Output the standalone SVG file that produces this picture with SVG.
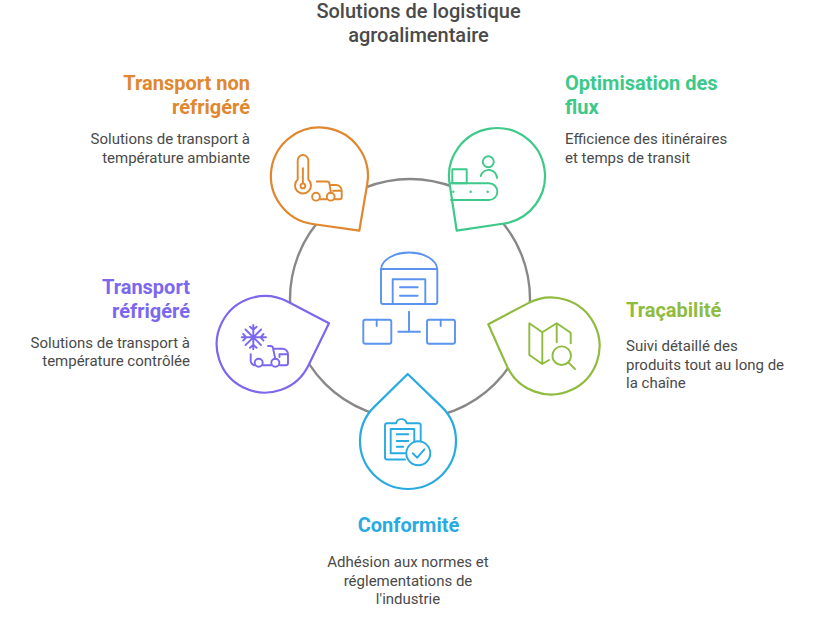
<svg xmlns="http://www.w3.org/2000/svg" width="816" height="630" viewBox="0 0 816 630">
<style>
text{font-family:Roboto,"Liberation Sans",sans-serif}
.t{font-size:20px;font-weight:500;fill:#4a4a4a;text-anchor:middle}
.h{font-size:20px;font-weight:700}
.b{font-size:15px;fill:#4a4a4a}
.e{text-anchor:end}.m{text-anchor:middle}
.n{fill:#fff;stroke-width:2.2;stroke-linejoin:round}
.i{fill:none;stroke-width:1.9;stroke-linecap:round;stroke-linejoin:round}
.or{stroke:#e0872f}.gr{stroke:#3cc98a}.li{stroke:#8fbc3f}.bl{stroke:#29abe2}.pu{stroke:#7b68ee}.ce{stroke:#5b93ee}
</style>
<rect width="816" height="630" fill="#fff"/>
<g id="connectors"><circle cx="410" cy="299" r="120" fill="none" stroke="#888" stroke-width="2.4"/></g>
<g id="title"><text class="t" x="418.5" y="18">Solutions de logistique</text><text class="t" x="418.5" y="42">agroalimentaire</text></g>
<g id="center" class="i ce">
<path d="M381 269a28.2 17.5 0 0 1 56.3 0V302a2 2 0 0 1-2 2H383a2 2 0 0 1-2-2ZM381 269H437.3"/>
<path d="M392.7 304V279.3H425.3V304M400 287.3H417.7M400 295.7H417.7"/>
<path d="M409 311.7V331.7M398.3 331.7H420"/>
<rect x="363.3" y="319.7" width="28" height="24" rx="2"/><path d="M376.7 319.7V326"/>
<rect x="427" y="319.7" width="28" height="24" rx="2"/><path d="M440.7 319.7V326"/>
</g>
<g id="node-transport-non-refrigere">
<path class="n or" d="M359.3 230.7L367.2 184.2A48.5 48.5 0 1 0 312.6 224Z"/>
<g class="i or">
<path d="M297.7 179.5V160.3a5.3 5.3 0 0 1 10.6 0V179.5a8 8 0 1 1-10.6 0Z"/><circle cx="302.9" cy="186" r="2.4"/><path d="M302.9 168.3V183"/>
<path d="M316.7 181.5H327a2.5 2.5 0 0 1 2.5 2.5L331 193M329.5 185H336a5.7 5.7 0 0 1 5.7 5.7V197a2.3 2.3 0 0 1-2.3 2.3H335M326.5 199.3H320.5M333 190.7H341.7"/>
<circle cx="316" cy="196.7" r="3.9"/><circle cx="330.7" cy="196.7" r="3.9"/>
</g>
<text class="h e" fill="#e0872f"><tspan x="250" y="90">Transport non</tspan><tspan x="250" y="114">réfrigéré</tspan></text>
<text class="b e"><tspan x="250" y="144">Solutions de transport à</tspan><tspan x="250" y="163">température ambiante</tspan></text>
</g>
<g id="node-optimisation-des-flux">
<path class="n gr" d="M456.7 230.7L449.5 183.2A48 48 0 1 1 504.2 223.5Z"/>
<g class="i gr">
<circle cx="488.3" cy="161.7" r="5.5"/><path d="M480.7 176a8.3 8.3 0 0 1 16.3 2"/>
<rect x="452.3" y="169.3" width="14.4" height="14"/>
<path d="M451 183.3H489a8.3 8.3 0 0 1 0 16.7H451"/>
<path d="M453.3 191.7h.01M470.7 191.7h.01M487.7 191.7h.01" stroke-width="2.4"/>
</g>
<text class="h" fill="#3cc98a"><tspan x="565" y="90">Optimisation des</tspan><tspan x="565" y="114">flux</tspan></text>
<text class="b"><tspan x="565" y="144">Efficience des itinéraires</tspan><tspan x="565" y="163">et temps de transit</tspan></text>
</g>
<g id="node-tracabilite">
<path class="n li" d="M488.3 324.3L528.3 303.1A48.5 48.5 0 1 1 506.7 365.6Z"/>
<g class="i li">
<path d="M529.3 323.3L542.3 332.3V364L529.3 355ZM542.3 332.3L556.7 323.3L570.7 332.7V343.3M556.7 323.3V342.3M542.3 364L549 360"/>
<circle cx="561.7" cy="355.7" r="9.3"/><path d="M568.3 362.3L575 369"/>
</g>
<text class="h" fill="#8fbc3f" x="626" y="317">Traçabilité</text>
<text class="b"><tspan x="626" y="351">Suivi détaillé des</tspan><tspan x="626" y="370">produits tout au long de</tspan><tspan x="626" y="388">la chaîne</tspan></text>
</g>
<g id="node-conformite">
<path class="n bl" d="M407.7 374L441.5 406.6A48 48 0 1 1 374.5 406.6Z"/>
<g class="i bl">
<path d="M405 459.5H387a2 2 0 0 1-2-2V425.3a2 2 0 0 1 2-2H396a5.5 5.5 0 0 1 10.7 0H418.7a2 2 0 0 1 2 2V441"/>
<path d="M414.3 441V429H390.7V453.3H405M396.7 434.3H408.3M396.7 441H408.3M396.7 446.7H403.3"/>
<circle cx="418.3" cy="453.3" r="12"/><path d="M412.7 453.3L417.3 457.7L424.3 449.3"/>
</g>
<text class="h m" fill="#29abe2" x="408.5" y="532">Conformité</text>
<text class="b m"><tspan x="408" y="567">Adhésion aux normes et</tspan><tspan x="408" y="586">réglementations de</tspan><tspan x="408" y="604">l'industrie</tspan></text>
</g>
<g id="node-transport-refrigere">
<path class="n pu" d="M329 323.3L287.4 301.5A48.3 48.3 0 1 0 308.4 365.5Z"/>
<g class="i pu">
<path d="M253.3 325V349.3M241.7 337.3H266M245.5 329.5L261.1 345.1M261.1 329.5L245.5 345.1M250 326.8L253.3 329.8L256.6 326.8M250 347.8L253.3 344.8L256.6 347.8M243.2 334L246.2 337.3L243.2 340.6M263.5 334L260.5 337.3L263.5 340.6"/>
<path d="M268 346H270.5a2.5 2.5 0 0 1 2.5 2.3L275.3 358.7M274 348.7H282.5a5.5 5.5 0 0 1 5.5 5.5V363a2.3 2.3 0 0 1-2.3 2.3H280M271 365.3H263M250.7 354.3V360a5.5 5.5 0 0 0 3.5 5.3M280 354.3H288M279.5 354.3V357"/>
<circle cx="258.7" cy="362.7" r="4"/><circle cx="275.3" cy="362.7" r="4"/>
</g>
<text class="h e" fill="#7b68ee"><tspan x="190" y="294">Transport</tspan><tspan x="190" y="318">réfrigéré</tspan></text>
<text class="b e"><tspan x="190" y="348">Solutions de transport à</tspan><tspan x="190" y="366">température contrôlée</tspan></text>
</g>
</svg>
